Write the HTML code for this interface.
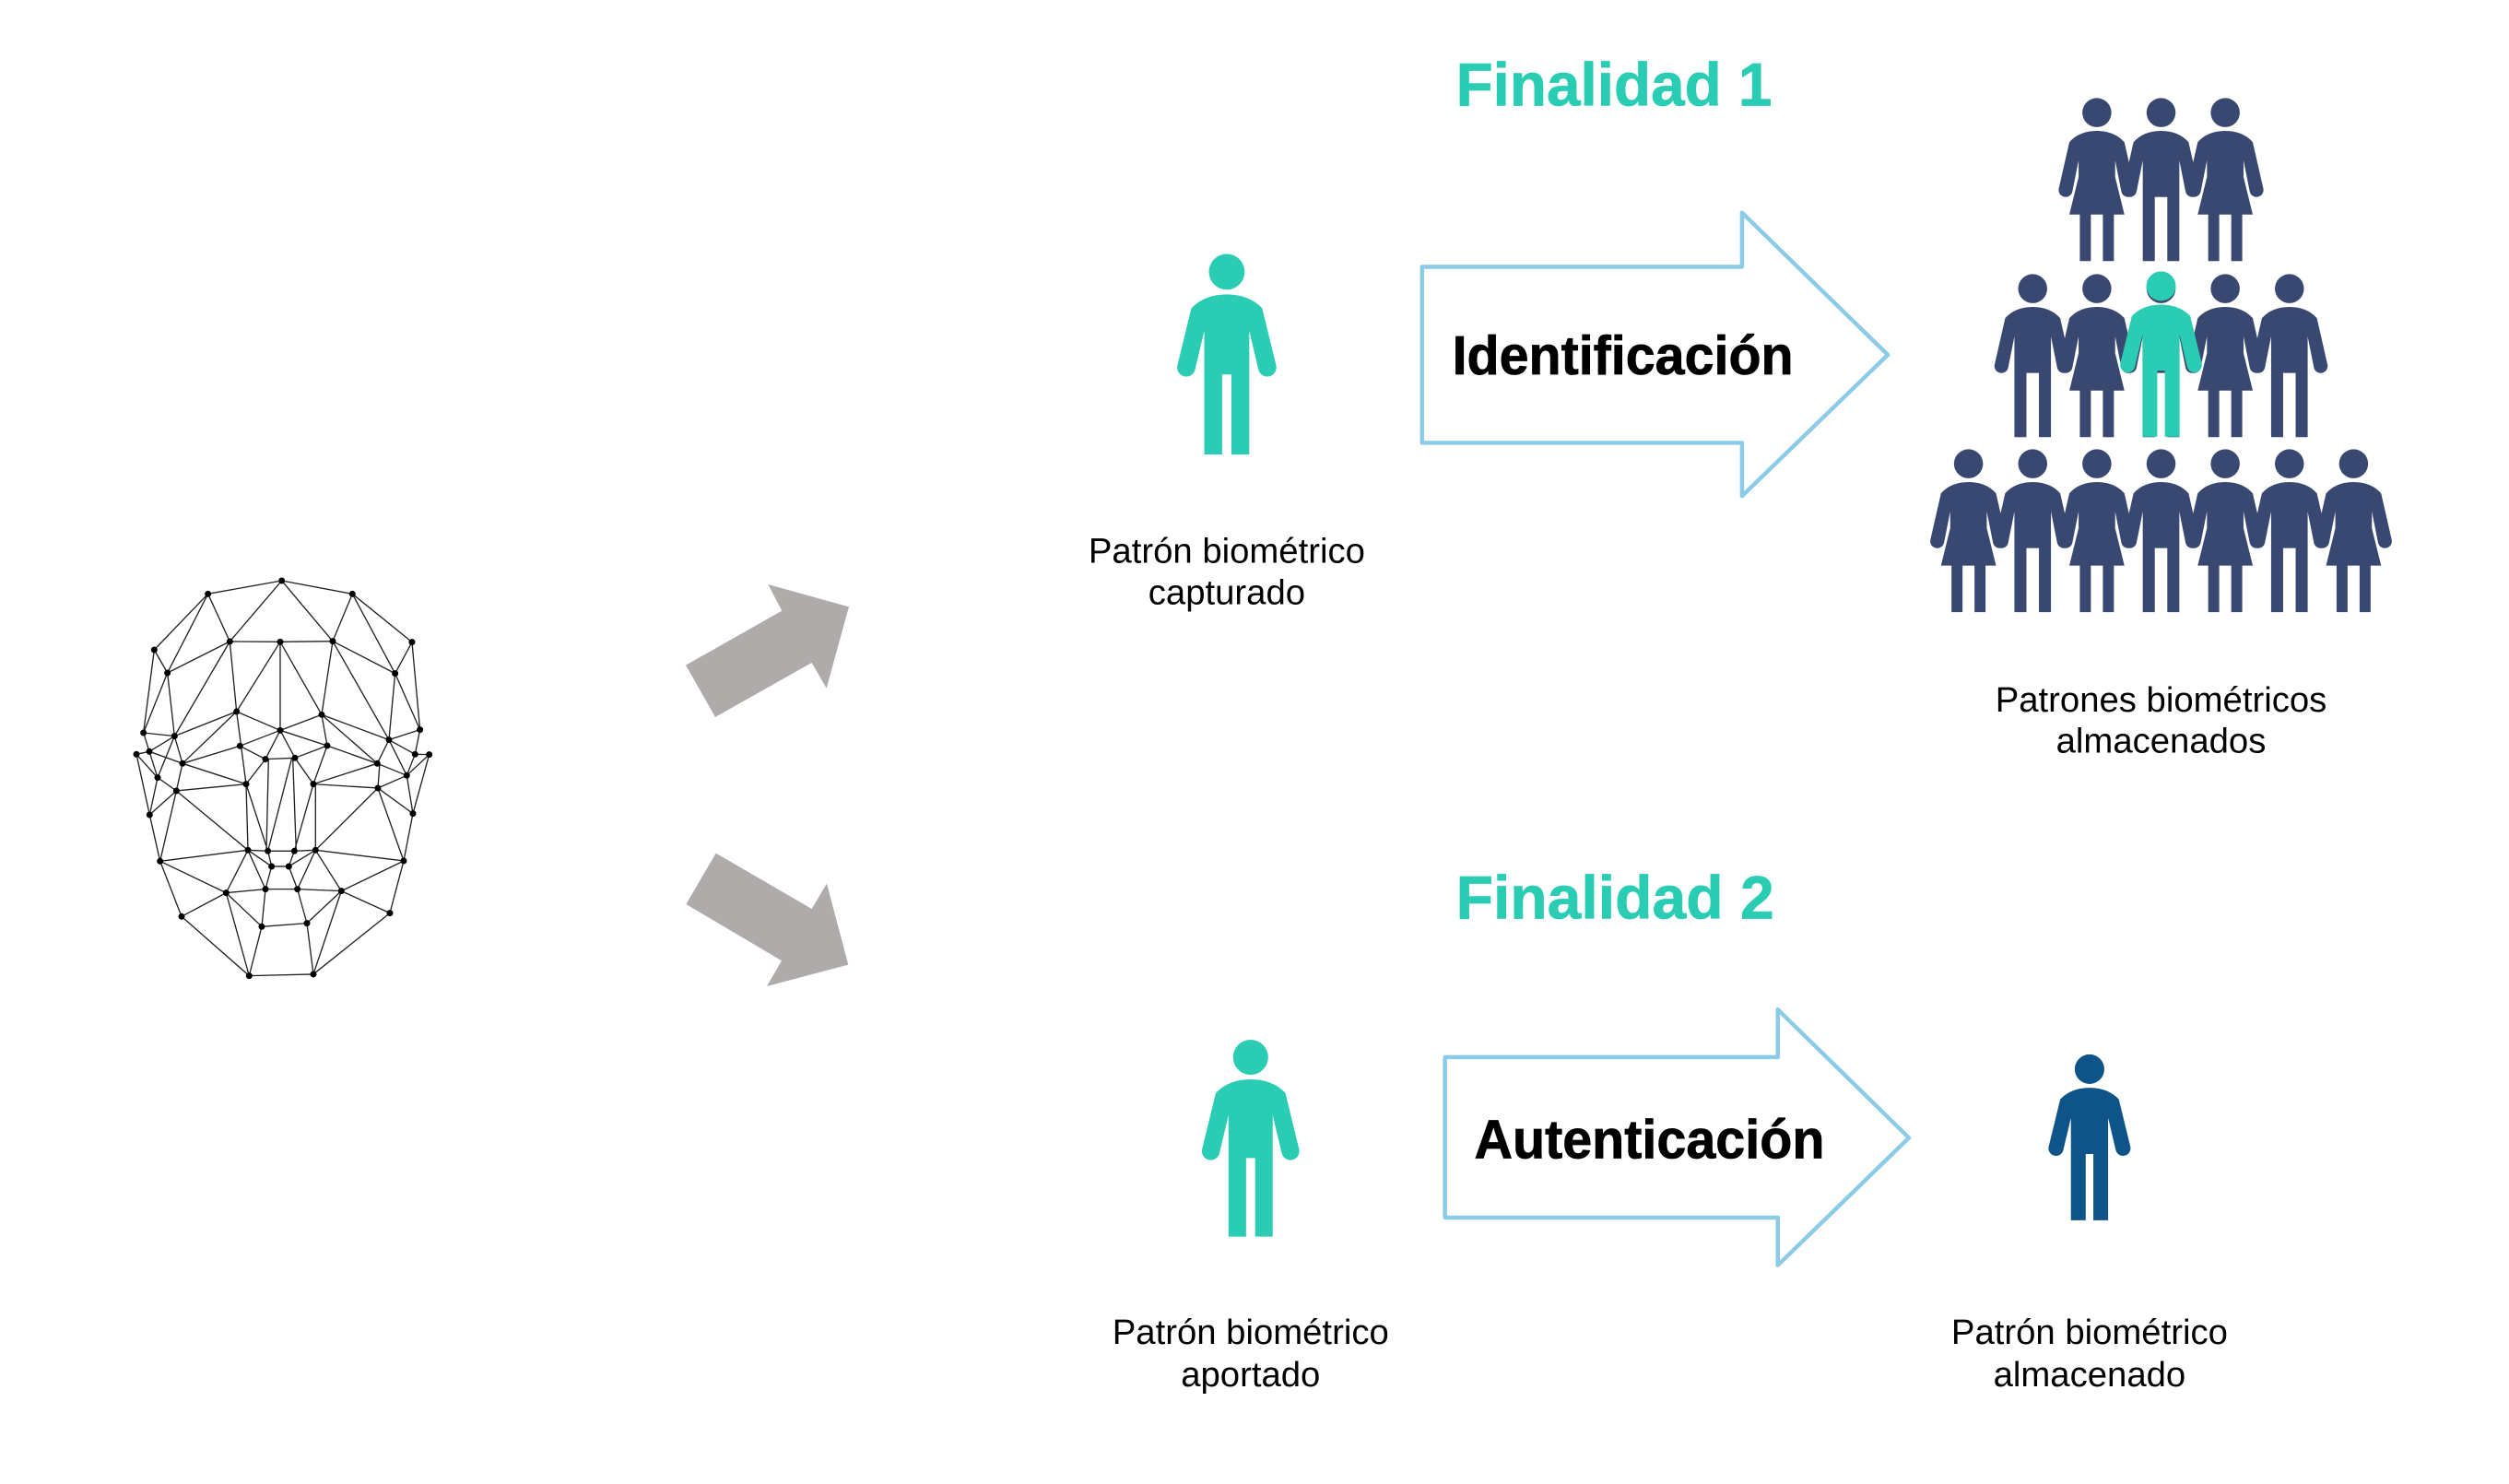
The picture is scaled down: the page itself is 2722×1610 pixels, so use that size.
<!DOCTYPE html>
<html><head><meta charset="utf-8"><style>
html,body{margin:0;padding:0;background:#fff;width:2722px;height:1610px;overflow:hidden}
svg{display:block}
text{font-family:"Liberation Sans",sans-serif}
.l{font-size:38.5px;fill:#000;text-anchor:middle}
.h{font-size:66px;font-weight:bold;fill:#2ACDB3;stroke:#2ACDB3;stroke-width:.7px}
.b{font-size:60px;font-weight:bold;fill:#000;stroke:#000;stroke-width:.8px}
</style></head><body>
<svg width="2722" height="1610" viewBox="0 0 2722 1610" xmlns="http://www.w3.org/2000/svg">
<defs>
<symbol id="man" overflow="visible"><circle cx="0" cy="58" r="58"/><path d="M0 131Q-72 131-115 176L-160 361A29 29 0 0 0-103 376L-73 249V651H-15V391H15V651H73V249L103 376A29 29 0 0 0 160 361L115 176Q72 131 0 131Z"/></symbol>
<symbol id="pm" overflow="visible"><circle cx="0" cy="58" r="58"/><path d="M0 131Q-70 131-110 176L-152 361A27 27 0 0 0-98 374L-73 249V651H-25V395H25V651H73V249L98 374A27 27 0 0 0 152 361L110 176Q70 131 0 131Z"/></symbol>
<symbol id="pw" overflow="visible"><circle cx="0" cy="58" r="58"/><path d="M0 131Q-70 131-110 176L-152 361A27 27 0 0 0-98 374L-73 249V315L-110 465H-68V651H-24V465H24V651H68V465H110L73 315V249L98 374A27 27 0 0 0 152 361L110 176Q70 131 0 131Z"/></symbol>
</defs>

<g transform="translate(120 600) scale(.3333)" fill="none">
<path stroke="#222" stroke-width="4" d="M557 90L317 133M557 90L787 133M557 90L388 288M557 90L723 287M317 133L142 315M317 133L185 390M317 133L388 288M787 133L723 287M787 133L926 392M787 133L981 290M142 315L185 390M142 315L107 585M185 390L388 288M185 390L107 585M185 390L208 596M388 288L552 289M388 288L208 596M388 288L410 516M552 289L723 287M552 289L410 516M552 289L552 577M552 289L687 526M723 287L926 392M723 287L687 526M723 287L906 608M926 392L981 290M926 392L906 608M926 392L1007 575M981 290L1007 575M107 585L208 596M107 585L126 646M126 646L153 731M208 596L410 516M208 596L126 646M208 596L153 731M208 596L234 685M410 516L234 685M410 516L552 577M410 516L441 752M552 577L687 526M552 577L421 628M552 577L504 671M552 577L600 667M552 577L705 627M687 526L705 627M687 526L906 608M687 526L868 685M906 608L1007 575M906 608L868 685M906 608L991 655M906 608L964 724M1007 575L991 655M991 655L1037 656M991 655L964 724M1037 656L964 724M1037 656L984 848M84 655L126 646M84 655L153 731M84 655L127 852M126 646L234 685M153 731L127 852M153 731L214 774M127 852L214 774M234 685L421 628M234 685L441 752M234 685L214 774M214 774L441 752M214 774L161 1003M214 774L447 967M127 852L161 1003M421 628L504 671M504 671L600 667M504 671L441 752M514 671L507 970M600 667L705 627M600 667L660 752M590 667L512 970M593 667L604 970M705 627L660 752M705 627L868 685M868 685L660 752M876 685L870 765M660 752L870 765M660 752L598 970M667 760L667 967M870 765L667 967M870 765L954 1002M870 765L964 724M870 765L984 848M964 724L984 848M964 724L868 685M984 848L954 1002M441 752L512 970M441 752L447 967M161 1003L447 967M447 967L512 970M512 970L598 970M598 970L667 967M667 967L954 1002M447 967L524 1020M512 970L524 1020M598 970L580 1020M667 967L580 1020M524 1020L580 1020M161 1003L376 1106M161 1003L231 1183M447 967L376 1106M447 967L504 1094M667 967L608 1094M667 967L751 1100M954 1002L751 1100M954 1002L909 1172M524 1020L504 1094M580 1020L608 1094M376 1106L504 1094M504 1094L608 1094M608 1094L751 1100M376 1106L231 1183M376 1106L492 1216M376 1106L451 1376M504 1094L492 1216M608 1094L639 1205M751 1100L639 1205M751 1100L909 1172M751 1100L660 1371M492 1216L639 1205M492 1216L451 1376M639 1205L660 1371M231 1183L451 1376M909 1172L660 1371M451 1376L660 1371"/>
<path stroke="#000" stroke-width="21" stroke-linecap="round" d="M557 90h0M317 133h0M787 133h0M142 315h0M185 390h0M388 288h0M552 289h0M723 287h0M926 392h0M981 290h0M107 585h0M208 596h0M410 516h0M552 577h0M687 526h0M906 608h0M1007 575h0M84 655h0M126 646h0M234 685h0M421 628h0M504 671h0M600 667h0M705 627h0M868 685h0M991 655h0M1037 656h0M153 731h0M214 774h0M441 752h0M660 752h0M870 765h0M964 724h0M127 852h0M984 848h0M161 1003h0M447 967h0M512 970h0M598 970h0M667 967h0M954 1002h0M524 1020h0M580 1020h0M376 1106h0M504 1094h0M608 1094h0M751 1100h0M231 1183h0M909 1172h0M492 1216h0M639 1205h0M451 1376h0M660 1371h0"/>
</g>

<g transform="translate(730 620) scale(.3333)" fill="#AEABAA">
<polygon points="42,305 355,128 310,42 573,115 500,380 452,297 138,474"/>
<polygon points="140,917 452,1098 501,1016 571,1280 306,1350 354,1267 43,1083"/>
</g>

<g transform="scale(.9947)">
<text class="h" x="1588" y="115">Finalidad 1</text>
<text class="h" x="1588" y="1002" textLength="347" lengthAdjust="spacingAndGlyphs">Finalidad 2</text>

<polygon points="1551,291 1900,291 1900,232 2059,387 1900,541 1900,483 1551,483" fill="#fff" stroke="#8CCBE8" stroke-width="4.5" stroke-linejoin="round"/>
<polygon points="1576,1153 1939,1153 1939,1101 2082,1241 1939,1380 1939,1328 1576,1328" fill="#fff" stroke="#8CCBE8" stroke-width="4.5" stroke-linejoin="round"/>
<text class="b" x="1584" y="408" textLength="372" lengthAdjust="spacingAndGlyphs">Identificación</text>
<text class="b" x="1608" y="1263" textLength="382" lengthAdjust="spacingAndGlyphs">Autenticación</text>

<use href="#man" transform="translate(1338 277) scale(.336)" fill="#2ACDB3"/>
<use href="#man" transform="translate(1364 1134) scale(.33)" fill="#2ACDB3"/>
<use href="#man" transform="translate(2279 1150) scale(.278)" fill="#0E5488"/>

<g fill="#394871">
<use href="#pw" transform="translate(2287 107) scale(.273)"/>
<use href="#pm" transform="translate(2357 107) scale(.273)"/>
<use href="#pw" transform="translate(2427 107) scale(.273)"/>
<use href="#pm" transform="translate(2217 299) scale(.273)"/>
<use href="#pw" transform="translate(2287 299) scale(.273)"/>
<use href="#pm" transform="translate(2357 299) scale(.273)"/>
<use href="#pw" transform="translate(2427 299) scale(.273)"/>
<use href="#pm" transform="translate(2497 299) scale(.273)"/>
<use href="#pw" transform="translate(2147 490) scale(.273)"/>
<use href="#pm" transform="translate(2217 490) scale(.273)"/>
<use href="#pw" transform="translate(2287 490) scale(.273)"/>
<use href="#pm" transform="translate(2357 490) scale(.273)"/>
<use href="#pw" transform="translate(2427 490) scale(.273)"/>
<use href="#pm" transform="translate(2497 490) scale(.273)"/>
<use href="#pw" transform="translate(2567 490) scale(.273)"/>
</g>
<use href="#man" transform="translate(2357 296) scale(.277)" fill="#2ACDB3"/>

<text class="l" x="1338" y="614">Patrón biométrico</text>
<text class="l" x="1338" y="659">capturado</text>
<text class="l" x="2357" y="776">Patrones biométricos</text>
<text class="l" x="2357" y="821">almacenados</text>
<text class="l" x="1364" y="1466">Patrón biométrico</text>
<text class="l" x="1364" y="1512">aportado</text>
<text class="l" x="2279" y="1466">Patrón biométrico</text>
<text class="l" x="2279" y="1512">almacenado</text>
</g>
</svg>
</body></html>
